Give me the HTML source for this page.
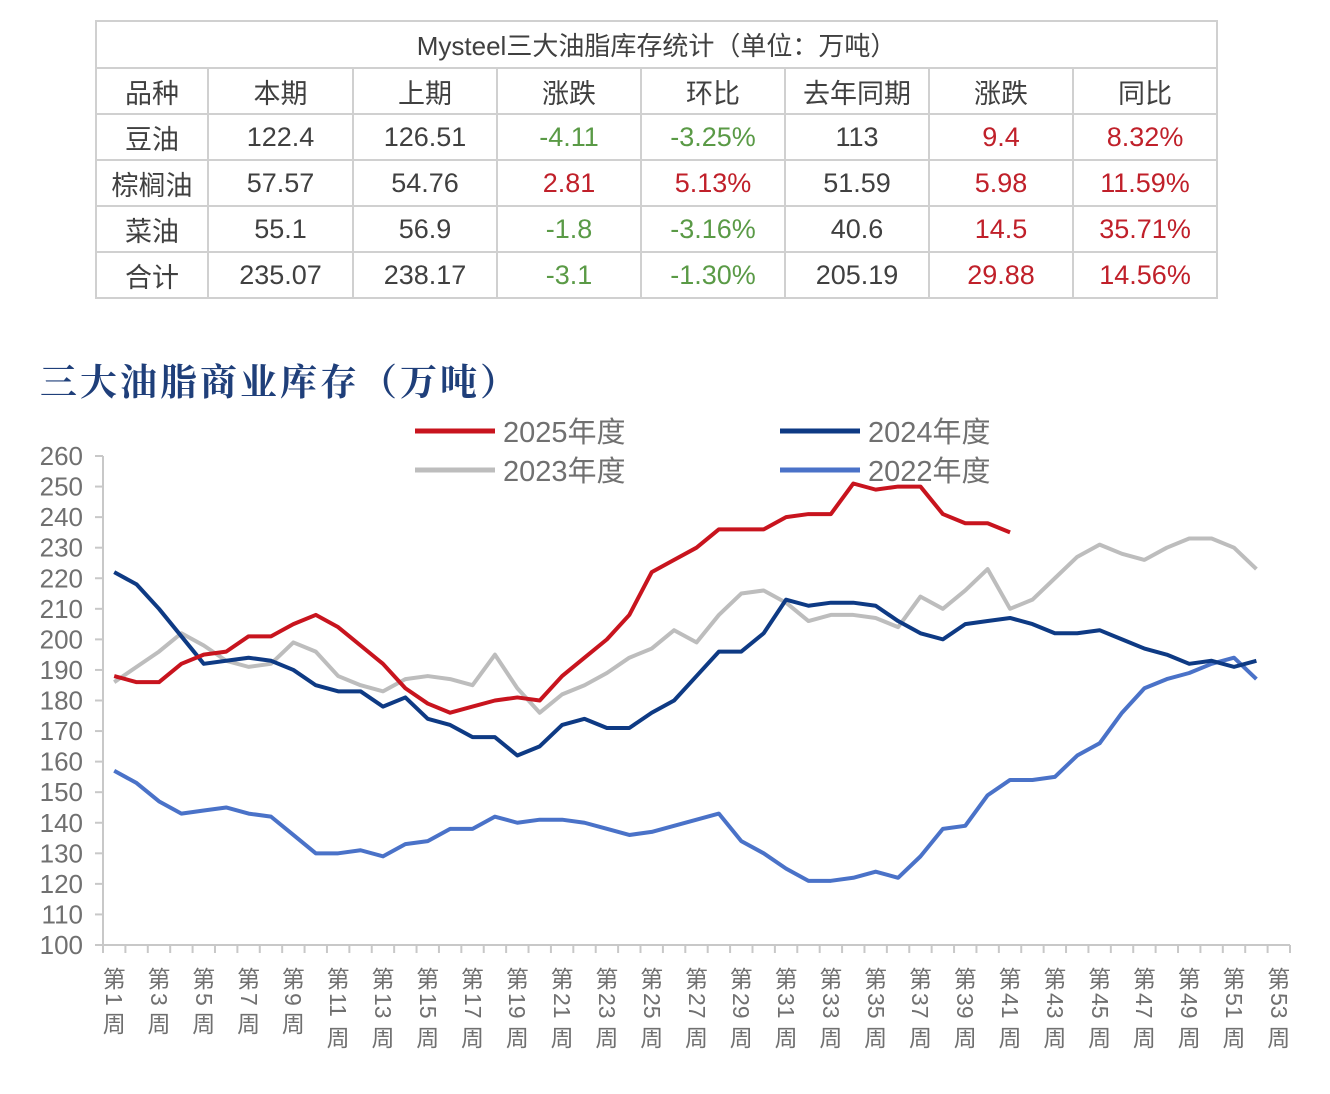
<!DOCTYPE html>
<html><head><meta charset="utf-8"><style>
body{margin:0;background:#fff;width:1330px;height:1094px;overflow:hidden;position:relative;font-family:"Liberation Sans","Noto Sans CJK SC",sans-serif}
table{position:absolute;left:95px;top:20px;border-collapse:collapse;width:1121px;table-layout:fixed}
td{border:2px solid #d0d0d0;height:46px;text-align:center;font-size:27px;color:#404040;padding:0;box-sizing:border-box}
td.t{height:47px;font-size:26px}
.g{color:#5a9a46}.r{color:#c0202a}
.title{position:absolute;left:40px;top:352px;font-family:"Noto Serif CJK SC",serif;font-weight:bold;font-size:37px;color:#1f3f7a;letter-spacing:3px}
.xl{position:absolute;top:966px;width:24px;color:#707070;font-size:23px;display:flex;flex-direction:column;align-items:center}
.xl .c{height:27px;line-height:27px}
.xl .n{position:relative;width:24px}
.xl .n span{display:block;position:absolute;left:0;top:0;white-space:nowrap;line-height:24px;transform-origin:0 0;transform:translate(24px,0) rotate(90deg)}
</style></head><body>
<table>
<colgroup><col style="width:112px"><col style="width:145px"><col style="width:144px"><col style="width:144px"><col style="width:144px"><col style="width:144px"><col style="width:144px"><col style="width:144px"></colgroup>
<tr><td class="t" colspan="8">Mysteel三大油脂库存统计（单位：万吨）</td></tr>
<tr><td>品种</td><td>本期</td><td>上期</td><td>涨跌</td><td>环比</td><td>去年同期</td><td>涨跌</td><td>同比</td></tr>
<tr><td>豆油</td><td>122.4</td><td>126.51</td><td class="g">-4.11</td><td class="g">-3.25%</td><td>113</td><td class="r">9.4</td><td class="r">8.32%</td></tr>
<tr><td>棕榈油</td><td>57.57</td><td>54.76</td><td class="r">2.81</td><td class="r">5.13%</td><td>51.59</td><td class="r">5.98</td><td class="r">11.59%</td></tr>
<tr><td>菜油</td><td>55.1</td><td>56.9</td><td class="g">-1.8</td><td class="g">-3.16%</td><td>40.6</td><td class="r">14.5</td><td class="r">35.71%</td></tr>
<tr><td>合计</td><td>235.07</td><td>238.17</td><td class="g">-3.1</td><td class="g">-1.30%</td><td>205.19</td><td class="r">29.88</td><td class="r">14.56%</td></tr>
</table>
<div class="title">三大油脂商业库存（万吨）</div>
<svg id="chart" width="1330" height="1094" style="position:absolute;left:0;top:0"></svg>
<div id="xlabels"></div>
<script>
const yTicks=[100,110,120,130,140,150,160,170,180,190,200,210,220,230,240,250,260];
const weekNums=[];for(let i=1;i<=53;i++)weekNums.push(String(i));
const s2025=[188,186,186,192,195,196,201,201,205,208,204,198,192,184,179,176,178,180,181,180,188,194,200,208,222,226,230,236,236,236,240,241,241,251,249,250,250,241,238,238,235];
const s2024=[222,218,210,201,192,193,194,193,190,185,183,183,178,181,174,172,168,168,162,165,172,174,171,171,176,180,188,196,196,202,213,211,212,212,211,206,202,200,205,206,207,205,202,202,203,200,197,195,192,193,191,193];
const s2023=[186,191,196,202,198,193,191,192,199,196,188,185,183,187,188,187,185,195,184,176,182,185,189,194,197,203,199,208,215,216,212,206,208,208,207,204,214,210,216,223,210,213,220,227,231,228,226,230,233,233,230,223];
const s2022=[157,153,147,143,144,145,143,142,136,130,130,131,129,133,134,138,138,142,140,141,141,140,138,136,137,139,141,143,134,130,125,121,121,122,124,122,129,138,139,149,154,154,155,162,166,176,184,187,189,192,194,187];
const seriesNames=['2025年度','2024年度','2023年度','2022年度'];
const svg=document.getElementById('chart');const NS='http://www.w3.org/2000/svg';
const X0=103,X1=1290,Y0=945,Y1=456,N=53,bw=(X1-X0)/N;
const x=i=>X0+(i+0.5)*bw;
const y=v=>Y0-(v-100)*(Y0-Y1)/160;
function mk(t,a){const e=document.createElementNS(NS,t);for(const k in a)e.setAttribute(k,a[k]);svg.appendChild(e);return e;}
let e=mk('line',{x1:X0,y1:Y1,x2:X0,y2:Y0,stroke:'#c8c8c8','stroke-width':2});


e=mk('line',{x1:X0,y1:Y0,x2:X1,y2:Y0,stroke:'#c8c8c8','stroke-width':2});


yTicks.forEach(v=>{
 mk('line',{x1:X0-8,y1:y(v),x2:X0,y2:y(v),stroke:'#c8c8c8','stroke-width':2});
 const t=mk('text',{x:83,y:y(v)+9,'text-anchor':'end','font-size':26,fill:'#707070'});t.textContent=v;
 
 
});
for(let i=0;i<=N;i++)mk('line',{x1:X0+i*bw,y1:Y0,x2:X0+i*bw,y2:Y0+8,stroke:'#c8c8c8','stroke-width':2});
const xl=document.getElementById('xlabels');
weekNums.forEach((w,i)=>{if(i%2)return;
 const d=document.createElement('div');d.className='xl';d.style.left=(x(i)-12)+'px';
 d.innerHTML='<div class="c">第</div><div class="n" style="height:'+(w.length*14+4)+'px"><span>'+w+'</span></div><div class="c">周</div>';
 
 
 xl.appendChild(d);
});
function line(d,c,name){const p=mk('polyline',{points:d.map((v,i)=>x(i)+','+y(v)).join(' '),fill:'none',stroke:c,'stroke-width':4,'stroke-linejoin':'round'});
 
 }
line(s2022,'#4a72c8','line-2022');
line(s2023,'#bdbdbd','line-2023');
line(s2024,'#0e3a84','line-2024');
line(s2025,'#c8141e','line-2025');
const leg=[[415,431,'#c8141e',0],[780,431,'#0e3a84',1],[415,470,'#bdbdbd',2],[780,470,'#4a72c8',3]];
leg.forEach(l=>{mk('line',{x1:l[0],y1:l[1],x2:l[0]+80,y2:l[1],stroke:l[2],'stroke-width':5});
 const t=mk('text',{x:l[0]+88,y:l[1]+11,'font-size':29,fill:'#707070'});t.textContent=seriesNames[l[3]];
 
 });
</script>
</body></html>
